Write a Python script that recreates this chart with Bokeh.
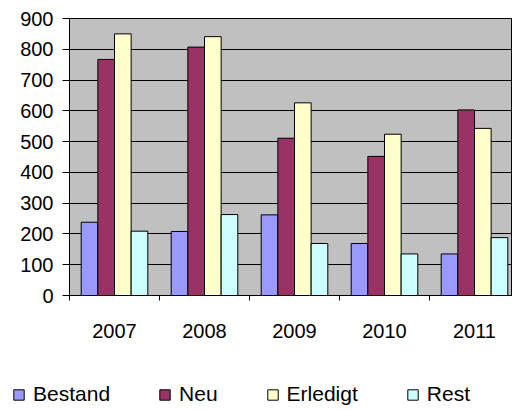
from bokeh.plotting import figure
from bokeh.layouts import column
from bokeh.models import (Range1d, FixedTicker, SingleIntervalTicker, Legend, LegendItem,
                          ColumnDataSource)
from bokeh.embed import file_html
from bokeh.resources import INLINE

years = ["2007", "2008", "2009", "2010", "2011"]
series = ["Bestand", "Neu", "Erledigt", "Rest"]
bestand = [238, 208, 262, 169, 135]
neu = [767, 807, 511, 452, 603]
erledigt = [850, 841, 626, 524, 543]
rest = [209, 263, 169, 135, 188]
colors = ["#9999FF", "#993366", "#FFFFCC", "#CCFFFF"]
values = [bestand, neu, erledigt, rest]

FONT = "Liberation Sans"
FS = "20px"

p = figure(width=512, height=345, output_backend="svg", toolbar_location=None,
           x_range=Range1d(0, 443 / 90), y_range=Range1d(0, 900),
           min_border_left=69, min_border_right=0, min_border_top=18, min_border_bottom=50)
p.background_fill_color = "#C0C0C0"
p.border_fill_color = "white"
p.outline_line_color = "black"
p.outline_line_width = 1

bar_w = 0.185
sources = []
for i, (name, vals, col) in enumerate(zip(series, values, colors)):
    xs = [k + 0.5 + (i - 1.5) * bar_w for k in range(len(years))]
    src = ColumnDataSource(dict(x=xs, top=vals))
    sources.append(src)
    p.vbar(x="x", top="top", width=bar_w, bottom=0, source=src,
           fill_color=col, line_color="black", line_width=1)

# y axis
p.yaxis.ticker = SingleIntervalTicker(interval=100)
p.yaxis.major_tick_out = 7
p.yaxis.major_tick_in = 0
p.yaxis.minor_tick_line_color = None
p.yaxis.axis_line_color = "black"
p.yaxis.major_label_text_font = FONT
p.yaxis.major_label_text_font_size = FS
p.yaxis.major_label_text_color = "black"
p.yaxis.major_label_standoff = 9

# x axis
centers = [k + 0.5 for k in range(len(years))]
bounds = list(range(len(years) + 1))
p.xaxis.ticker = FixedTicker(ticks=centers, minor_ticks=bounds)
p.xaxis.major_label_overrides = {c: y for c, y in zip(centers, years)}
p.xaxis.major_tick_line_color = None
p.xaxis.major_tick_out = 0
p.xaxis.minor_tick_out = 5
p.xaxis.minor_tick_in = 0
p.xaxis.minor_tick_line_color = "black"
p.xaxis.axis_line_color = "black"
p.xaxis.major_label_text_font = FONT
p.xaxis.major_label_text_font_size = FS
p.xaxis.major_label_text_color = "black"
p.xaxis.major_label_standoff = 23

p.xgrid.grid_line_color = None
p.ygrid.grid_line_color = "black"
p.ygrid.grid_line_width = 1

# legend figure (its bars lie far outside its view; only the legend shows)
q = figure(width=512, height=65, output_backend="svg", toolbar_location=None,
           x_range=Range1d(-200, -199), y_range=Range1d(-20000, -19999),
           x_axis_location=None, y_axis_location=None,
           min_border_left=0, min_border_right=0, min_border_top=0, min_border_bottom=0)
q.outline_line_color = None
q.background_fill_color = "white"
q.xgrid.grid_line_color = None
q.ygrid.grid_line_color = None
if hasattr(q, "frame_align"):
    q.frame_align = False
    p.frame_align = False
items = []
for name, col, src in zip(series, colors, sources):
    r = q.vbar(x="x", top="top", bottom=0, width=bar_w, source=src,
               fill_color=col, line_color="black", line_width=1)
    items.append(LegendItem(label=name, renderers=[r]))

legend = Legend(items=items, orientation="horizontal", location=(12, 4))
legend.padding = 0
legend.margin = 0
legend.spacing = 48
legend.glyph_width = 13
legend.glyph_height = 13
legend.label_standoff = 8
legend.label_text_font = FONT
legend.label_text_font_size = "21px"
legend.label_text_color = "black"
legend.border_line_color = None
legend.background_fill_alpha = 0
q.add_layout(legend, "center")

layout = column(p, q, spacing=0)
open("out.html", "w").write(file_html(layout, INLINE))
